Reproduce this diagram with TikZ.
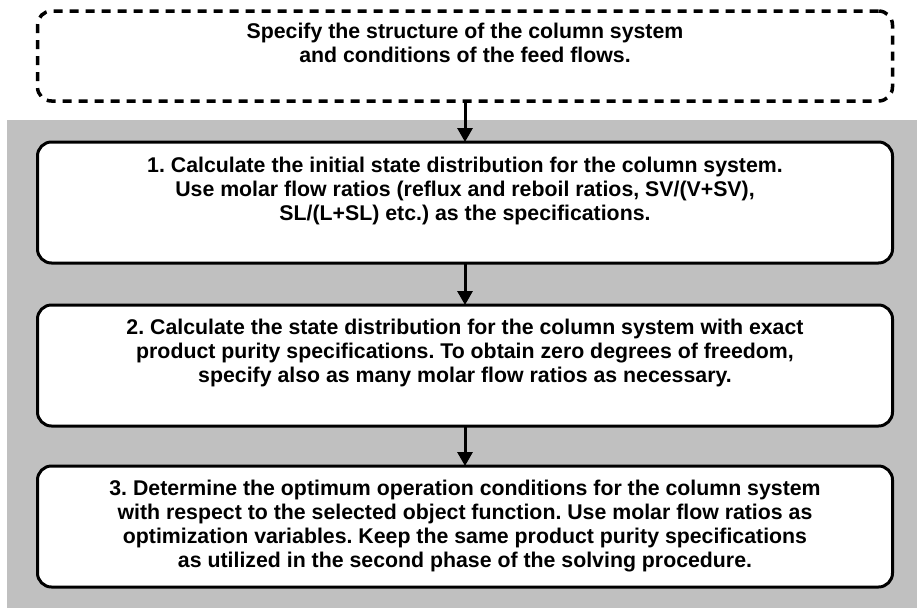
\documentclass[tikz,border=0pt]{standalone}
\usepackage{fontspec}
\setmainfont{Liberation Sans}
\usetikzlibrary{arrows.meta}
\definecolor{panelgray}{HTML}{C0C0C0}
\begin{document}
\frenchspacing
\begin{tikzpicture}[x=1pt,y=-1pt,
  stepbox/.style={draw=black,line width=3pt,fill=white,rounded corners=14pt,
    minimum width=855pt,minimum height=121pt,inner sep=0pt,outer sep=0pt},
  startbox/.style={draw=black,line width=3.5pt,fill=white,rounded corners=14pt,
    dash pattern=on 9pt off 7pt,
    minimum width=855pt,minimum height=90pt,inner sep=0pt,outer sep=0pt},
  steptext/.style={anchor=north,align=center,inner sep=0pt,
    font=\bfseries\fontsize{21.3}{24.2}\selectfont},
  flow/.style={line width=3pt,-{Triangle[width=15pt,length=14pt]}}]
  \useasboundingbox (0,0) rectangle (917,608);
  \fill[white] (0,0) rectangle (917,608);
  % grey panel behind the three solving phases
  \fill[panelgray] (7,120) rectangle (917,608);

  % boxes
  \node[startbox] (spec) at (465,56) {};
  \node[stepbox] (phase1) at (465,202.5) {};
  \node[stepbox] (phase2) at (465,365.5) {};
  \node[stepbox] (phase3) at (465,526.5) {};

  % texts
  \node[steptext] (spectxt) at (465,22.5) {Specify the structure of the column system\\and conditions of the feed flows.};
  \node[steptext] (p1txt) at (465,156.5) {1. Calculate the initial state distribution for the column system.\\Use molar flow ratios (reflux and reboil ratios, SV/(V+SV),\\SL/(L+SL) etc.) as the specifications.};
  \node[steptext] (p2txt) at (465,318.5) {2. Calculate the state distribution for the column system with exact\\product purity specifications. To obtain zero degrees of freedom,\\specify also as many molar flow ratios as necessary.};
  \node[steptext] (p3txt) at (465,479.5) {3. Determine the optimum operation conditions for the column system\\with respect to the selected object function. Use molar flow ratios as\\optimization variables. Keep the same product purity specifications\\as utilized in the second phase of the solving procedure.};

  % connectors
  \draw[flow] (spec.south) -- (phase1.north);
  \draw[flow] (phase1.south) -- (phase2.north);
  \draw[flow] (phase2.south) -- (phase3.north);
\end{tikzpicture}
\end{document}
